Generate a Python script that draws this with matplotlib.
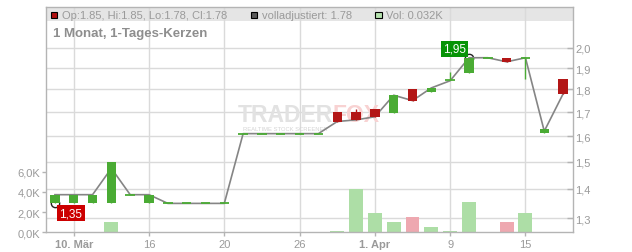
import numpy as np
import matplotlib
matplotlib.use("Agg")
import matplotlib.pyplot as plt
from matplotlib.patches import Rectangle
from matplotlib.ticker import NullLocator, NullFormatter

plt.rcParams['font.family'] = ['Liberation Sans', 'DejaVu Sans']

# ---------------- data ----------------
dates = ["03-09", "03-10", "03-11", "03-12", "03-13",
         "03-16", "03-17", "03-18", "03-19", "03-20",
         "03-23", "03-24", "03-25", "03-26", "03-27",
         "03-30", "03-31", "04-01", "04-02",
         "04-07", "04-08", "04-09", "04-10",
         "04-13", "04-14", "04-15", "04-16", "04-17"]
opens  = [1.35, 1.35, 1.35, 1.35, 1.38, 1.35, 1.35, 1.35, 1.35, 1.35,
          1.61, 1.61, 1.61, 1.61, 1.61, 1.70, 1.70, 1.713, 1.697,
          1.80, 1.79, 1.845, 1.878, 1.95, 1.95, 1.95, 1.614, 1.85]
highs  = [1.38, 1.38, 1.38, 1.50, 1.38, 1.38, 1.35, 1.35, 1.35, 1.35,
          1.61, 1.61, 1.61, 1.61, 1.61, 1.70, 1.715, 1.713, 1.774,
          1.80, 1.807, 1.88, 1.95, 1.95, 1.95, 1.95, 1.629, 1.85]
lows   = [1.35, 1.35, 1.35, 1.35, 1.38, 1.35, 1.35, 1.35, 1.35, 1.35,
          1.61, 1.61, 1.61, 1.61, 1.61, 1.66, 1.667, 1.68, 1.697,
          1.75, 1.79, 1.845, 1.878, 1.95, 1.93, 1.848, 1.614, 1.78]
closes = [1.38, 1.38, 1.38, 1.50, 1.38, 1.38, 1.35, 1.35, 1.35, 1.35,
          1.61, 1.61, 1.61, 1.61, 1.61, 1.66, 1.667, 1.68, 1.774,
          1.75, 1.807, 1.845, 1.95, 1.95, 1.93, 1.95, 1.629, 1.78]
adj_close = [1.38, 1.38, 1.38, 1.475, 1.38, 1.38, 1.35, 1.35, 1.35, 1.35,
             1.61, 1.61, 1.61, 1.61, 1.61, 1.66, 1.667, 1.68, 1.774,
             1.75, 1.807, 1.84, 1.95, 1.95, 1.93, 1.95, 1.62, 1.78]
volume_k = [0, 0, 0, 1.0, 0, 0, 0, 0, 0, 0,
            0, 0, 0, 0, 0, 0.13, 4.27, 1.9, 1.0,
            1.5, 0.52, 0.13, 3.0, 0, 1.0, 1.9, 0, 0.032]

tick_dates = ["03-10", "03-16", "03-20", "03-26", "04-01", "04-09", "04-15"]
tick_labels = ["10. Mär", "16", "20", "26", "1. Apr", "9", "15"]
price_ticks = [1.3, 1.4, 1.5, 1.6, 1.7, 1.8, 1.9, 2.0]
vol_ticks = [0, 2, 4, 6]

# ---------------- styles ----------------
W, H = 632, 253
GREEN = '#4aab34'
RED = '#b31616'
VGREEN = '#addea6'
VRED = '#eea8b0'
GRID = '#dadada'
SPINE = '#b4b4b4'
TXT = '#9a9a9a'


def fx(x):
    return x / W


def fy(y):
    return 1 - y / H


o = np.array(opens)
h = np.array(highs)
l = np.array(lows)
c = np.array(closes)
adj = np.array(adj_close)
vol = np.array(volume_k)
x = np.arange(len(dates))

fig = plt.figure(figsize=(W / 100, H / 100), dpi=100)
fig.patch.set_facecolor('white')
left, right, top, bottom = 45.5, 572.5, 8.0, 233.3
ax = fig.add_axes([fx(left), fy(bottom), fx(right - left), (bottom - top) / H])
ax2 = ax.twinx()
ax.set_zorder(2)
ax.patch.set_visible(False)
ax2.set_zorder(1)

# price axis (right, log)
ax2.set_yscale('log')
ax2.set_ylim(1.255, 2.2165)
ax2.set_xlim(-0.5, len(dates) - 0.5)
ax2.set_yticks(price_ticks)
ax2.set_yticklabels([f"{v:.1f}".replace('.', ',') for v in price_ticks])
ax2.yaxis.set_minor_locator(NullLocator())
ax2.yaxis.set_minor_formatter(NullFormatter())
ax2.tick_params(axis='y', direction='in', length=4, width=1, color=SPINE,
                labelcolor=TXT, labelsize=8, pad=2)
ax2.set_axisbelow(True)
ax2.yaxis.grid(True, color=GRID, lw=1)
for s in ax2.spines.values():
    s.set_visible(False)

tick_idx = [dates.index(d) for d in tick_dates]
for xi in tick_idx:
    ax2.axvline(xi, color=GRID, lw=1, zorder=0.5)

# header band
band_frac = (bottom - 22) / (bottom - top)
ax2.add_patch(Rectangle((0, band_frac), 1, 1 - band_frac, transform=ax2.transAxes,
                        facecolor='#e5e5e5', edgecolor='none', zorder=0.3))

# watermark
wm_y = (bottom - 122) / (bottom - top)
wm_x = (333 - left) / (right - left)
ax2.text(wm_x, wm_y, "TRADER", transform=ax2.transAxes, ha='right', va='baseline',
         fontsize=16.5, fontweight='bold', color='#e2e2e2', zorder=0.6)
ax2.text(wm_x, wm_y, "FOX", transform=ax2.transAxes, ha='left', va='baseline',
         fontsize=16.5, fontweight='bold', color='#f8d2d2', zorder=0.6)
ax2.text((285 - left) / (right - left), (bottom - 130) / (bottom - top),
         "REALTIME STOCK SCREENER", transform=ax2.transAxes, ha='center', va='center',
         fontsize=4.2, color='#d4d4d4', zorder=0.6)

# volume bars (left axis)
prev = np.concatenate([[c[0]], c[:-1]])
vcolors = [VGREEN if ci >= pi else VRED for ci, pi in zip(c, prev)]
ax.bar(x, vol, width=0.74, color=vcolors, zorder=2)
ax.set_ylim(0, 22.3)
ax.set_xlim(-0.5, len(dates) - 0.5)
ax.set_yticks(vol_ticks)
ax.set_yticklabels([f"{v:.1f}K".replace('.', ',') for v in vol_ticks])
ax.tick_params(axis='y', direction='out', length=3, width=1, color=SPINE,
               labelcolor=TXT, labelsize=8, pad=1)
ax.set_xticks(tick_idx)
ax.set_xticklabels(tick_labels)
for lab, txt in zip(ax.get_xticklabels(), tick_labels):
    if '.' in txt:
        lab.set_fontweight('bold')
ax.tick_params(axis='x', direction='out', length=3, width=1, color=SPINE,
               labelcolor=TXT, labelsize=8, pad=2)
for s in ax.spines.values():
    s.set_color(SPINE)
    s.set_linewidth(1)

# candles
up = c >= o
ccol = np.where(up, GREEN, RED)
lo_b = np.minimum(o, c)
hi_b = np.maximum(o, c)
doji = np.isclose(lo_b, hi_b)
bw = 0.5

# extreme markers (drawn beneath)
imin = int(np.argmin(l))
imax = int(np.argmax(h))
ax2.plot([x[imin]], [l[imin]], 'o', mfc='none', mec='#222222', ms=6, mew=1, zorder=2.5)
ax2.plot([x[imax]], [h[imax]], 'o', mfc='none', mec='#222222', ms=6, mew=1, zorder=2.5)

ax2.plot(x, adj, color='#858585', lw=1.2, zorder=3)
ax2.vlines(x, l, h, colors=ccol, lw=1, zorder=3.5)
nd = ~doji
ax2.bar(x[nd], (hi_b - lo_b)[nd], bottom=lo_b[nd], width=bw, color=ccol[nd],
        zorder=4, linewidth=0)
ax2.hlines(c[doji], x[doji] - bw / 2, x[doji] + bw / 2, colors=ccol[doji],
           lw=1.3, zorder=4)

ax2.annotate(f"{l[imin]:.2f}".replace('.', ','), xy=(x[imin], l[imin]),
             xytext=(11.5, -7), textcoords='offset points', ha='center', va='center',
             color='white', fontsize=8.5,
             bbox=dict(boxstyle='square,pad=0.18', fc='#cc0000', ec='none'), zorder=6)
ax2.annotate(f"{h[imax]:.2f}".replace('.', ','), xy=(x[imax], h[imax]),
             xytext=(-10.5, 6.5), textcoords='offset points', ha='center', va='center',
             color='white', fontsize=8.5,
             bbox=dict(boxstyle='square,pad=0.18', fc='#079407', ec='none'), zorder=6)

# header legend
def sq(x0, color):
    fig.patches.append(Rectangle((fx(x0), fy(19)), fx(6.3), 6.3 / H,
                                 transform=fig.transFigure, facecolor=color,
                                 edgecolor='black', linewidth=0.8, zorder=5))

sq(50.7, '#b01010')
fig.text(fx(61.5), fy(15.6),
         f"Op:{o[-1]:.2f}, Hi:{h[-1]:.2f}, Lo:{l[-1]:.2f}, Cl:{c[-1]:.2f}",
         ha='left', va='center', fontsize=8, color=TXT)
sq(251, '#5a5a5a')
fig.text(fx(261.5), fy(15.6), f"volladjustiert: {adj[-1]:.2f}",
         ha='left', va='center', fontsize=8, color=TXT)
sq(375.5, '#b5e2ae')
fig.text(fx(386), fy(15.6), f"Vol: {vol[-1]:.3f}K",
         ha='left', va='center', fontsize=8, color=TXT)
fig.text(fx(53), fy(33.5), "1 Monat, 1-Tages-Kerzen", ha='left', va='center',
         fontsize=9.5, fontweight='bold', color='#8e8e8e')

fig.savefig("out.png", dpi=100, facecolor='white')
